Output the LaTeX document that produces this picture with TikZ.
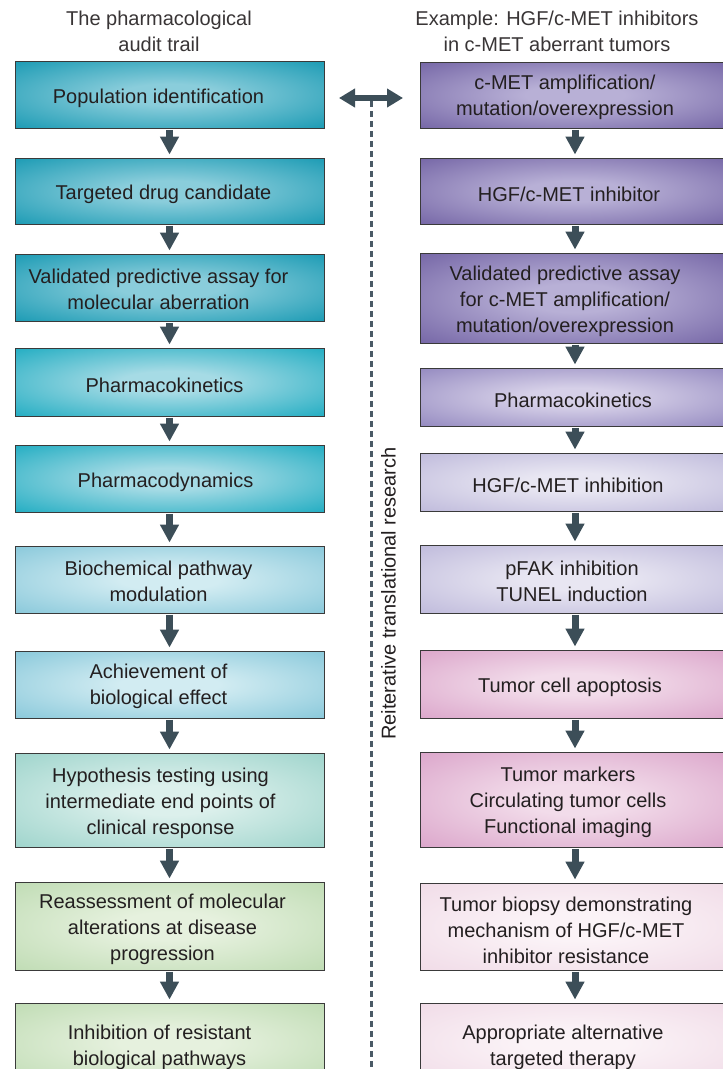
\documentclass[tikz,border=0pt]{standalone}
\usepackage{fontspec}
\setmainfont{Liberation Sans}
\usetikzlibrary{arrows.meta}
\definecolor{txtcol}{HTML}{231F20}
\definecolor{boxline}{HTML}{3A3A3A}
\definecolor{arrowcol}{HTML}{3C4E58}
\definecolor{dashcol}{HTML}{4A5A66}
% left column
\definecolor{LAout}{HTML}{0A93AE}\definecolor{LAin}{HTML}{8ACDDB}
\definecolor{LBout}{HTML}{0EA6BD}\definecolor{LBin}{HTML}{A6DBE5}
\definecolor{LCout}{HTML}{7EC3D7}\definecolor{LCin}{HTML}{D2ECF2}
\definecolor{LDout}{HTML}{95D0C7}\definecolor{LDin}{HTML}{DCF0EC}
\definecolor{LEout}{HTML}{BAD9AE}\definecolor{LEin}{HTML}{E6F1DE}
% right column
\definecolor{RAout}{HTML}{6B5B9F}\definecolor{RAin}{HTML}{B8B0D6}
\definecolor{RBout}{HTML}{8A7FBA}\definecolor{RBin}{HTML}{D6D0E8}
\definecolor{RCout}{HTML}{B9B4D8}\definecolor{RCin}{HTML}{E8E6F2}
\definecolor{RDout}{HTML}{D89EC6}\definecolor{RDin}{HTML}{F2DCEA}
\definecolor{REout}{HTML}{EFD8E5}\definecolor{REin}{HTML}{FBF3F7}
\colorlet{glowin}{white}
\colorlet{glowout}{black}
\pgfdeclareradialshading[glowin,glowout]{glow}{\pgfpoint{0bp}{0bp}}{color(0bp)=(glowin); color(8bp)=(glowin); color(40bp)=(glowout); color(50bp)=(glowout)}
\tikzset{
  glowbox/.code 2 args={\colorlet{glowin}{#1}\colorlet{glowout}{#2}%
    \pgfkeysalso{draw=boxline, line width=0.9pt, shading=glow}},
  lbox/.style={minimum width=309pt, inner sep=0pt},
  rbox/.style={minimum width=310pt, inner sep=0pt},
  txt/.style={font=\fontsize{20}{26}\selectfont, text=txtcol, align=center, inner sep=0pt},
  title/.style={font=\fontsize{20}{26}\selectfont, text=txtcol!90, align=center, inner sep=0pt},
  flow/.style={draw=arrowcol, line width=7pt, shorten <=1.5pt, shorten >=3pt, -{Triangle[width=18pt,length=18pt]}},
  dflow/.style={draw=arrowcol, line width=6pt, {Triangle[width=18pt,length=16pt]}-{Triangle[width=18pt,length=16pt]}},
  dashline/.style={draw=dashcol, line width=3pt, dash pattern=on 6pt off 4pt}
}
\begin{document}
\begin{tikzpicture}[x=1pt,y=-1pt]
\path[use as bounding box] (0,0) rectangle (723,1069);
\fill[white] (0,0) rectangle (723,1069);
\clip (0,0) rectangle (723,1069);

% titles
\node[title] (titleL) at (159,31.5) {The pharmacological\\audit trail};
\node[title] (titleR) at (557,31.5) {Example: HGF/c-MET inhibitors\\in c-MET aberrant tumors};

% left column boxes
\node[glowbox={LAin}{LAout}, lbox, minimum height=67pt] (L1) at (169.5,94.5) {};
\node[glowbox={LAin}{LAout}, lbox, minimum height=66pt] (L2) at (169.5,191) {};
\node[glowbox={LAin}{LAout}, lbox, minimum height=67pt] (L3) at (169.5,287.5) {};
\node[glowbox={LBin}{LBout}, lbox, minimum height=68pt] (L4) at (169.5,382) {};
\node[glowbox={LBin}{LBout}, lbox, minimum height=67pt] (L5) at (169.5,478.5) {};
\node[glowbox={LCin}{LCout}, lbox, minimum height=67pt] (L6) at (169.5,579.5) {};
\node[glowbox={LCin}{LCout}, lbox, minimum height=67pt] (L7) at (169.5,684.5) {};
\node[glowbox={LDin}{LDout}, lbox, minimum height=94pt] (L8) at (169.5,800) {};
\node[glowbox={LEin}{LEout}, lbox, minimum height=88pt] (L9) at (169.5,926) {};
\node[glowbox={LEin}{LEout}, lbox, minimum height=80pt] (L10) at (169.5,1043) {};

\node[txt] (L1t) at ([xshift=-11pt,yshift=-3.5pt]L1.center) {Population identification};
\node[txt] (L2t) at ([xshift=-6pt,yshift=-3.5pt]L2.center) {Targeted drug candidate};
\node[txt] (L3t) at ([xshift=-11pt,yshift=-2pt]L3.center) {Validated predictive assay for\\molecular aberration};
\node[txt] (L4t) at ([xshift=-5pt,yshift=-3.5pt]L4.center) {Pharmacokinetics};
\node[txt] (L5t) at ([xshift=-4pt,yshift=-3.5pt]L5.center) {Pharmacodynamics};
\node[txt] (L6t) at ([xshift=-11pt,yshift=-2pt]L6.center) {Biochemical pathway\\modulation};
\node[txt] (L7t) at ([xshift=-11pt,yshift=-2pt]L7.center) {Achievement of\\biological effect};
\node[txt] (L8t) at ([xshift=-9pt,yshift=-3pt]L8.center) {Hypothesis testing using\\intermediate end points of\\clinical response};
\node[txt] (L9t) at ([xshift=-7pt,yshift=-3.5pt]L9.center) {Reassessment of molecular\\alterations at disease\\progression};
\node[txt] (L10t) at ([xshift=-10pt,yshift=-4pt]L10.center) {Inhibition of resistant\\biological pathways};

% right column boxes
\node[glowbox={RAin}{RAout}, rbox, minimum height=66pt] (R1) at (575,95) {};
\node[glowbox={RAin}{RAout}, rbox, minimum height=66pt] (R2) at (575,191) {};
\node[glowbox={RAin}{RAout}, rbox, minimum height=90pt] (R3) at (575,298) {};
\node[glowbox={RBin}{RBout}, rbox, minimum height=58pt] (R4) at (575,397) {};
\node[glowbox={RCin}{RCout}, rbox, minimum height=58pt] (R5) at (575,482) {};
\node[glowbox={RCin}{RCout}, rbox, minimum height=68pt] (R6) at (575,579) {};
\node[glowbox={RDin}{RDout}, rbox, minimum height=68pt] (R7) at (575,684) {};
\node[glowbox={RDin}{RDout}, rbox, minimum height=95pt] (R8) at (575,799.5) {};
\node[glowbox={REin}{REout}, rbox, minimum height=87pt] (R9) at (575,926.5) {};
\node[glowbox={REin}{REout}, rbox, minimum height=80pt] (R10) at (575,1043) {};

\node[txt] (R1t) at ([xshift=-10pt,yshift=-2pt]R1.center) {c-MET amplification/\\mutation/overexpression};
\node[txt] (R2t) at ([xshift=-6pt,yshift=-3.5pt]R2.center) {HGF/c-MET inhibitor};
\node[txt] (R3t) at ([xshift=-10pt,yshift=-3.5pt]R3.center) {Validated predictive assay\\for c-MET amplification/\\mutation/overexpression};
\node[txt] (R4t) at ([xshift=-2pt,yshift=-3.5pt]R4.center) {Pharmacokinetics};
\node[txt] (R5t) at ([xshift=-7pt,yshift=-3.5pt]R5.center) {HGF/c-MET inhibition};
\node[txt] (R6t) at ([xshift=-3pt,yshift=-2pt]R6.center) {pFAK inhibition\\TUNEL induction};
\node[txt] (R7t) at ([xshift=-5pt,yshift=-3.5pt]R7.center) {Tumor cell apoptosis};
\node[txt] (R8t) at ([xshift=-7pt,yshift=-3pt]R8.center) {Tumor markers\\Circulating tumor cells\\Functional imaging};
\node[txt] (R9t) at ([xshift=-9pt,yshift=-3.5pt]R9.center) {Tumor biopsy demonstrating\\mechanism of HGF/c-MET\\inhibitor resistance};
\node[txt] (R10t) at ([xshift=-12pt,yshift=-4pt]R10.center) {Appropriate alternative\\targeted therapy};

% flow arrows
\foreach \a/\b in {L1/L2,L2/L3,L3/L4,L4/L5,L5/L6,L6/L7,L7/L8,L8/L9,L9/L10,
                   R1/R2,R2/R3,R3/R4,R4/R5,R5/R6,R6/R7,R7/R8,R8/R9,R9/R10}
  \draw[flow] (\a) -- (\b);

% reiterative research link
\coordinate (aL) at (339,98);
\coordinate (aR) at (403,98);
\coordinate (dTop) at (371,101);
\coordinate (dBot) at (371,1069);
\draw[dashline] (dTop) -- (dBot);
\draw[dflow] (aL) -- (aR);
\node[txt, rotate=90] (vlabel) at (388.5,593.5) {Reiterative translational research};
\end{tikzpicture}
\end{document}
